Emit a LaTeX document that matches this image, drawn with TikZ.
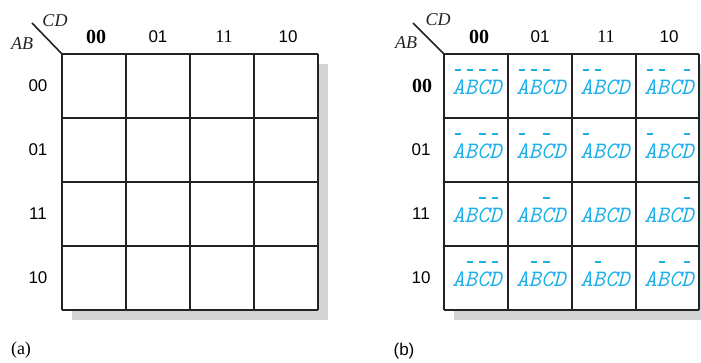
\documentclass[tikz,border=0pt]{standalone}
\usepackage{fontspec}
\setmainfont{Liberation Serif}
\setsansfont{Liberation Sans}
\definecolor{kcyan}{RGB}{30,176,232}
\definecolor{kshadow}{RGB}{212,212,212}
\definecolor{kline}{RGB}{34,34,34}
\newcommand{\nb}[1]{\rlap{\hspace{0.1em}\raisebox{1.0em}{\rule{0.27em}{0.08em}}}#1}
\tikzset{
  gridline/.style={draw=kline, line width=1.7pt},
  shadowbox/.style={fill=kshadow, draw=none},
  hdr/.style={inner sep=0pt, font=\fontsize{18}{18}\selectfont},
  hdrbold/.style={inner sep=0pt, font=\bfseries\fontsize{20}{20}\selectfont},
  hdrsans/.style={inner sep=0pt, font=\sffamily\fontsize{17}{17}\selectfont},
  var/.style={inner sep=0pt, font=\itshape\fontsize{18}{18}\selectfont, text=kline},
  mt/.style={inner sep=0pt, anchor=base, text=kcyan, font=\ttfamily\itshape\fontsize{23.5}{23.5}\selectfont},
  caplabel/.style={inner sep=0pt, font=\fontsize{18}{18}\selectfont},
}
\begin{document}
\begin{tikzpicture}[x=1pt, y=-1pt]
\useasboundingbox (0,0) rectangle (701,362);
% ---------- (a) ----------
\fill[shadowbox] (72,64) rectangle (328,320);
\fill[white] (62,54) rectangle (318,310);
\foreach \i in {0,1,2,3,4} {
  \draw[gridline] (62+64*\i,54) -- (62+64*\i,310);
  \draw[gridline] (62,54+64*\i) -- (318,54+64*\i);
}
\coordinate (ca) at (62,54);
\coordinate (da) at (32,23);
\draw[kline, line width=1.6pt] (ca) -- (da);
\node[var] (cda) at (55,21) {CD};
\node[var] (aba) at (22,44) {AB};
\node[hdrbold] (ha0) at (96,37) {00};
\node[hdrsans] (ha1) at (158,37) {01};
\node[hdr] (ha2) at (224,37) {11};
\node[hdrsans] (ha3) at (288,37) {10};
\node[hdrsans] (ra0) at (38,86) {00};
\node[hdrsans] (ra1) at (38,150) {01};
\node[hdrsans] (ra2) at (38,214) {11};
\node[hdrsans] (ra3) at (38,278) {10};
\node[caplabel] (la) at (21,350) {(a)};
% ---------- (b) ----------
\fill[shadowbox] (454,64) rectangle (712,320);
\fill[white] (444,54) rectangle (699,310);
\foreach \i in {0,1,2,3} {
  \draw[gridline] (444+64*\i,54) -- (444+64*\i,310);
}
\draw[gridline] (699,54) -- (699,310);
\foreach \i in {0,1,2,3,4} {
  \draw[gridline] (444,54+64*\i) -- (699,54+64*\i);
}
\coordinate (cb) at (444,54);
\coordinate (db) at (413,23);
\draw[kline, line width=1.6pt] (cb) -- (db);
\node[var] (cdb) at (438,20) {CD};
\node[var] (abb) at (406,43) {AB};
\node[hdrbold] (hb0) at (479,37) {00};
\node[hdrsans] (hb1) at (540,37) {01};
\node[hdr] (hb2) at (606,37) {11};
\node[hdrsans] (hb3) at (669,37) {10};
\node[hdrbold] (rb0) at (422,86) {00};
\node[hdrsans] (rb1) at (421,150) {01};
\node[hdrsans] (rb2) at (421,214) {11};
\node[hdrsans] (rb3) at (421,278) {10};
\node[caplabel, font=\sffamily\fontsize{17}{17}\selectfont] (lb) at (404,351) {(b)};
% minterms
\node[mt] (m00a) at (477,94) {\nb{A}\nb{B}\nb{C}\nb{D}};
\node[mt] (m00b) at (541,94) {\nb{A}\nb{B}\nb{C}D};
\node[mt] (m00c) at (605,94) {\nb{A}\nb{B}CD};
\node[mt] (m00d) at (669,94) {\nb{A}\nb{B}C\nb{D}};
\node[mt] (m01a) at (477,158) {\nb{A}B\nb{C}\nb{D}};
\node[mt] (m01b) at (541,158) {\nb{A}B\nb{C}D};
\node[mt] (m01c) at (605,158) {\nb{A}BCD};
\node[mt] (m01d) at (669,158) {\nb{A}BC\nb{D}};
\node[mt] (m11a) at (477,222) {AB\nb{C}\nb{D}};
\node[mt] (m11b) at (541,222) {AB\nb{C}D};
\node[mt] (m11c) at (605,222) {ABCD};
\node[mt] (m11d) at (669,222) {ABC\nb{D}};
\node[mt] (m10a) at (477,286) {A\nb{B}\nb{C}\nb{D}};
\node[mt] (m10b) at (541,286) {A\nb{B}\nb{C}D};
\node[mt] (m10c) at (605,286) {A\nb{B}CD};
\node[mt] (m10d) at (669,286) {A\nb{B}C\nb{D}};
\end{tikzpicture}
\end{document}
